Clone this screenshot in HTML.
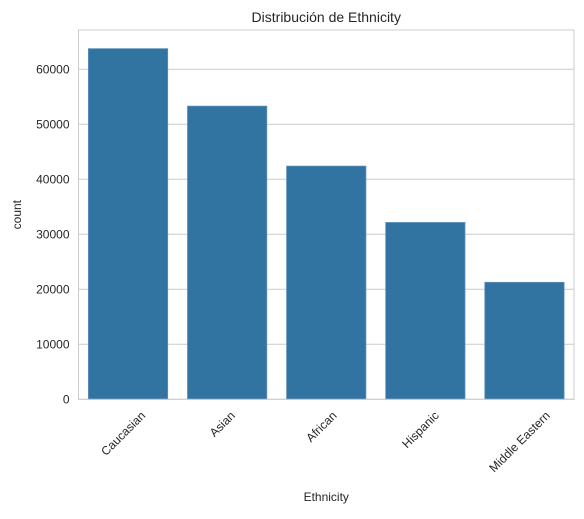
<!DOCTYPE html>
<html><head><meta charset="utf-8"><style>
body{margin:0;background:#fff;font-family:"Liberation Sans","DejaVu Sans",sans-serif;}
</style></head><body>
<svg id="chart" width="584" height="514" xmlns="http://www.w3.org/2000/svg" font-family="Liberation Sans, DejaVu Sans, sans-serif"></svg>
<script>
const categories=["Caucasian","Asian","African","Hispanic","Middle Eastern"];
const counts=[63750,53300,42400,32150,21270];
const yTicks=[0,10000,20000,30000,40000,50000,60000];
const svg=document.getElementById('chart');
const NS='http://www.w3.org/2000/svg';
const L=78.5,R=574,T=30,B=399.3;
const ymax=(B-T)/0.0055;
const y=v=>B-v*(B-T)/ymax;
const band=(R-L)/categories.length;
const x=i=>L+band*i;
function mk(tag,attrs,parent){const e=document.createElementNS(NS,tag);for(const k in attrs)e.setAttribute(k,attrs[k]);(parent||svg).appendChild(e);return e;}
yTicks.forEach(t=>{
  const g=mk('line',{x1:L,x2:R,y1:y(t),y2:y(t),stroke:'#cccccc','stroke-width':1});
  
  
  const tx=mk('text',{x:L-9,y:y(t)+4,'text-anchor':'end','font-size':12,fill:'#262626'});
  tx.textContent=t;
  
  
});
categories.forEach((c,i)=>{
  const bx=x(i)+band*0.1,bw=band*0.8;
  const r=mk('rect',{x:bx,y:y(counts[i]),width:bw,height:B-y(counts[i]),fill:'#3274a1',stroke:'#5b8fb8','stroke-width':0.8});
  
  
  const cx=x(i)+band/2;
  const tx=mk('text',{'text-anchor':'end','font-size':12,fill:'#262626'});
  tx.textContent=c;
  
  
  const w=tx.getComputedTextLength();
  const ex=cx+w*0.707/2-2, ey=B+17;
  tx.setAttribute('x',ex);tx.setAttribute('y',ey);
  tx.setAttribute('transform',`rotate(-45 ${ex} ${ey})`);
});
const fr=mk('rect',{x:L,y:T,width:R-L,height:B-T,fill:'none',stroke:'#cccccc','stroke-width':1});


const ti=mk('text',{x:(L+R)/2,y:22,'text-anchor':'middle','font-size':14,fill:'#262626'});
ti.textContent='Distribución de Ethnicity';


const xl=mk('text',{x:(L+R)/2,y:501,'text-anchor':'middle','font-size':12,fill:'#262626'});
xl.textContent='Ethnicity';


const yl=mk('text',{x:21,y:(T+B)/2,'text-anchor':'middle','font-size':12,fill:'#262626',transform:`rotate(-90 21 ${(T+B)/2})`});
yl.textContent='count';


</script>
</body></html>
